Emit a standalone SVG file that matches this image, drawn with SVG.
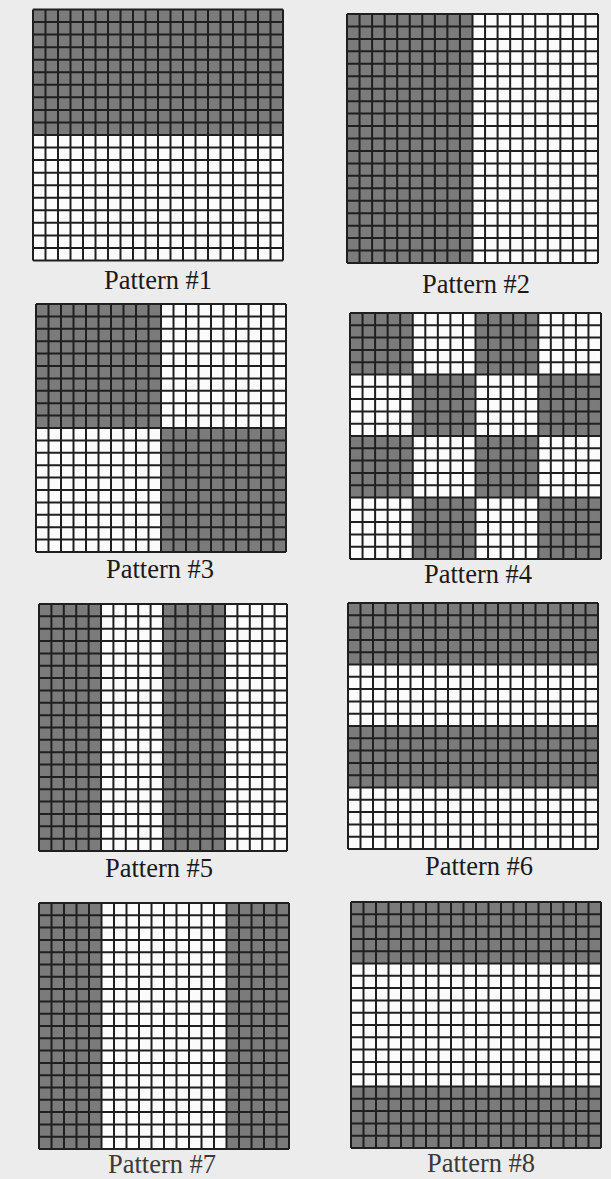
<svg xmlns="http://www.w3.org/2000/svg" xmlns:xlink="http://www.w3.org/1999/xlink" width="611" height="1179" viewBox="0 0 611 1179">
<style>
.bg{fill:#ececec}
.cellw{fill:#fbfbfb}
.dark{fill:#7b7b7b}
.lines{fill:none;stroke:#1f1f1f;stroke-width:2}
.lbl{font-family:"Liberation Serif","Times New Roman",serif;font-size:26.5px;fill:#1a1a1a;text-anchor:middle}
.blur{fill:#3a3a3a}
</style>
<defs>
<path id="grid" class="lines" d="M0 0V250M12.5 0V250M25 0V250M37.5 0V250M50 0V250M62.5 0V250M75 0V250M87.5 0V250M100 0V250M112.5 0V250M125 0V250M137.5 0V250M150 0V250M162.5 0V250M175 0V250M187.5 0V250M200 0V250M212.5 0V250M225 0V250M237.5 0V250M250 0V250M0 0H250M0 12.5H250M0 25H250M0 37.5H250M0 50H250M0 62.5H250M0 75H250M0 87.5H250M0 100H250M0 112.5H250M0 125H250M0 137.5H250M0 150H250M0 162.5H250M0 175H250M0 187.5H250M0 200H250M0 212.5H250M0 225H250M0 237.5H250M0 250H250"/>
</defs>
<rect class="bg" x="0" y="0" width="611" height="1179"/>

<g id="pattern1">
<g transform="translate(33,9.5) scale(1,1.004)">
<rect class="cellw" width="250" height="250"/>
<rect class="dark" x="0" y="0" width="250" height="125"/>
<use xlink:href="#grid"/>
</g>
<text class="lbl" x="158" y="289">Pattern #1</text>
</g>

<g id="pattern2">
<g transform="translate(347,14) scale(1.004,0.996)">
<rect class="cellw" width="250" height="250"/>
<rect class="dark" x="0" y="0" width="125" height="250"/>
<use xlink:href="#grid"/>
</g>
<text class="lbl" x="476" y="293">Pattern #2</text>
</g>

<g id="pattern3">
<g transform="translate(36,304) scale(1,0.992)">
<rect class="cellw" width="250" height="250"/>
<rect class="dark" x="0" y="0" width="125" height="125"/>
<rect class="dark" x="125" y="125" width="125" height="125"/>
<use xlink:href="#grid"/>
</g>
<text class="lbl" x="160" y="578">Pattern #3</text>
</g>

<g id="pattern4">
<g transform="translate(350,313) scale(1.004,0.984)">
<rect class="cellw" width="250" height="250"/>
<rect class="dark" x="0" y="0" width="62.5" height="62.5"/>
<rect class="dark" x="125" y="0" width="62.5" height="62.5"/>
<rect class="dark" x="62.5" y="62.5" width="62.5" height="62.5"/>
<rect class="dark" x="187.5" y="62.5" width="62.5" height="62.5"/>
<rect class="dark" x="0" y="125" width="62.5" height="62.5"/>
<rect class="dark" x="125" y="125" width="62.5" height="62.5"/>
<rect class="dark" x="62.5" y="187.5" width="62.5" height="62.5"/>
<rect class="dark" x="187.5" y="187.5" width="62.5" height="62.5"/>
<use xlink:href="#grid"/>
</g>
<text class="lbl" x="478" y="583">Pattern #4</text>
</g>

<g id="pattern5">
<g transform="translate(39,604) scale(0.992,0.988)">
<rect class="cellw" width="250" height="250"/>
<rect class="dark" x="0" y="0" width="62.5" height="250"/>
<rect class="dark" x="125" y="0" width="62.5" height="250"/>
<use xlink:href="#grid"/>
</g>
<text class="lbl" x="159" y="877">Pattern #5</text>
</g>

<g id="pattern6">
<g transform="translate(348,603) scale(1,0.984)">
<rect class="cellw" width="250" height="250"/>
<rect class="dark" x="0" y="0" width="250" height="62.5"/>
<rect class="dark" x="0" y="125" width="250" height="62.5"/>
<use xlink:href="#grid"/>
</g>
<text class="lbl" x="479" y="875">Pattern #6</text>
</g>

<g id="pattern7">
<g transform="translate(39,903) scale(1,0.984)">
<rect class="cellw" width="250" height="250"/>
<rect class="dark" x="0" y="0" width="62.5" height="250"/>
<rect class="dark" x="187.5" y="0" width="62.5" height="250"/>
<use xlink:href="#grid"/>
</g>
<text class="lbl blur" x="162" y="1173">Pattern #7</text>
</g>

<g id="pattern8">
<g transform="translate(351,902) scale(1,0.984)">
<rect class="cellw" width="250" height="250"/>
<rect class="dark" x="0" y="0" width="250" height="62.5"/>
<rect class="dark" x="0" y="187.5" width="250" height="62.5"/>
<use xlink:href="#grid"/>
</g>
<text class="lbl blur" x="481" y="1172">Pattern #8</text>
</g>
</svg>
